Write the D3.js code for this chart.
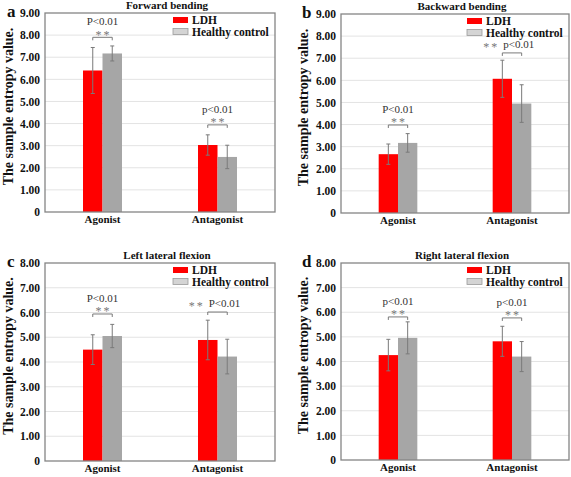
<!DOCTYPE html>
<html><head><meta charset="utf-8">
<script src="https://cdn.jsdelivr.net/npm/d3@7"></script>
<style>body{margin:0;background:#fff}svg{display:block}</style>
</head><body><svg id="c" width="571" height="477"></svg>
<script>
const categories = ["Agonist", "Antagonist"];
const seriesNames = ["LDH", "Healthy control"];
const panelLetters = ["a", "b", "c", "d"];
const panelTitles = ["Forward bending", "Backward bending", "Left lateral flexion", "Right lateral flexion"];
const yMaxValues = [9, 9, 8, 8];
const ldhMean = [[6.40, 3.03], [2.66, 6.07], [4.50, 4.89], [4.26, 4.82]];
const ldhErr  = [[1.04, 0.46], [0.46, 0.84], [0.60, 0.80], [0.64, 0.61]];
const hcMean  = [[7.17, 2.49], [3.17, 4.95], [5.05, 4.22], [4.96, 4.20]];
const hcErr   = [[0.34, 0.53], [0.42, 0.85], [0.47, 0.70], [0.65, 0.61]];
const sigText  = [["P<0.01", "p<0.01"], ["P<0.01", "p<0.01"], ["P<0.01", "P<0.01"], ["p<0.01", "p<0.01"]];
const sigStyle = [["stack", "stack"], ["stack", "inline"], ["stack", "inline"], ["stack", "stack"]];
const sigLevel = [[7.9, 3.94], [3.98, 7.24], [5.94, 6.02], [5.81, 5.77]];
const yLabel = "The sample entropy value.";

const colors = {LDH: "#ff0000", "Healthy control": "#a6a6a6"};
const legendSwatch = {LDH: "#ff0000", "Healthy control": "#d4d4d4"};
const serif = "'Liberation Serif','Times New Roman',serif";

const layout = [
  {left: 45, top: 13, right: 275, bottom: 212, letterX: 7, labelX: 8},
  {left: 341, top: 14, right: 569, bottom: 213, letterX: 302, labelX: 303},
  {left: 45, top: 263, right: 275, bottom: 461, letterX: 7, labelX: 8},
  {left: 341, top: 263, right: 569, bottom: 460, letterX: 302, labelX: 303}
];

const svg = d3.select("#c");

layout.forEach((L, p) => {
  const g = svg.append("g");
  const x0 = d3.scaleBand().domain(categories).range([L.left, L.right]);
  const x1 = d3.scaleBand().domain(seriesNames).range([0, x0.bandwidth()]).paddingOuter(1.95);
  const y = d3.scaleLinear().domain([0, yMaxValues[p]]).range([L.bottom, L.top]);
  const ticks = d3.range(0, yMaxValues[p] + 1);

  // gridlines
  g.selectAll("line.grid").data(ticks.filter(t => t > 0 && t < yMaxValues[p])).join("line")
    .attr("x1", L.left).attr("x2", L.right)
    .attr("y1", d => y(d)).attr("y2", d => y(d))
    .attr("stroke", "#e3e3e3").attr("stroke-width", 1);

  // y axis tick labels
  const yAxis = d3.axisLeft(y).tickValues(ticks).tickSize(0).tickPadding(5)
    .tickFormat(d => d === 0 ? "0" : d3.format(".2f")(d));
  const ya = g.append("g").attr("transform", `translate(${L.left},0)`).call(yAxis);
  ya.select(".domain").remove();
  ya.selectAll("text").attr("font-family", serif).attr("font-weight", "bold")
    .attr("font-size", "11.5px").attr("fill", "#111");

  // x axis labels
  const xAxis = d3.axisBottom(x0).tickSize(0).tickPadding(3);
  const xa = g.append("g").attr("transform", `translate(0,${L.bottom})`).call(xAxis);
  xa.select(".domain").remove();
  xa.selectAll("text").attr("font-family", serif).attr("font-weight", "bold")
    .attr("font-size", "11px").attr("fill", "#111");

  // bars
  const rows = [];
  categories.forEach((c, i) => {
    rows.push({cat: c, s: "LDH", v: ldhMean[p][i], e: ldhErr[p][i]});
    rows.push({cat: c, s: "Healthy control", v: hcMean[p][i], e: hcErr[p][i]});
  });
  g.selectAll("rect.bar").data(rows).join("rect")
    .attr("x", d => x0(d.cat) + x1(d.s))
    .attr("width", x1.bandwidth())
    .attr("y", d => y(d.v))
    .attr("height", d => y(0) - y(d.v))
    .attr("fill", d => colors[d.s]);

  // error bars
  const cx = d => x0(d.cat) + x1(d.s) + x1.bandwidth() / 2;
  const eb = g.selectAll("g.eb").data(rows).join("g").attr("stroke", "#7a7a7a").attr("stroke-width", 1);
  eb.append("line").attr("x1", cx).attr("x2", cx).attr("y1", d => y(d.v + d.e)).attr("y2", d => y(d.v - d.e));
  eb.append("line").attr("x1", d => cx(d) - 2).attr("x2", d => cx(d) + 2).attr("y1", d => y(d.v + d.e)).attr("y2", d => y(d.v + d.e));
  eb.append("line").attr("x1", d => cx(d) - 2).attr("x2", d => cx(d) + 2).attr("y1", d => y(d.v - d.e)).attr("y2", d => y(d.v - d.e));

  // plot border
  g.append("rect").attr("x", L.left).attr("y", L.top)
    .attr("width", L.right - L.left).attr("height", L.bottom - L.top)
    .attr("fill", "none").attr("stroke", "#858585").attr("stroke-width", 1.3);

  // significance brackets
  categories.forEach((c, i) => {
    const bl = x0(c) + x1("LDH") + x1.bandwidth() / 2;
    const br = x0(c) + x1("Healthy control") + x1.bandwidth() / 2;
    const by = y(sigLevel[p][i]);
    g.append("path").attr("d", `M${bl},${by + 3}V${by}H${br}V${by + 3}`)
      .attr("fill", "none").attr("stroke", "#7a7a7a").attr("stroke-width", 1);
    const mid = (bl + br) / 2;
    if (sigStyle[p][i] === "stack") {
      g.append("text").attr("x", mid).attr("y", by - 12).attr("text-anchor", "middle")
        .attr("font-family", serif).attr("font-size", "11px").attr("fill", "#333").text(sigText[p][i]);
      g.append("text").attr("x", mid + 1).attr("y", by + 1.5).attr("text-anchor", "middle")
        .attr("font-family", serif).attr("font-size", "12px").attr("letter-spacing", "2px")
        .attr("fill", "#777").text("**");
    } else {
      g.append("text").attr("x", bl - 3).attr("y", by - 5).attr("text-anchor", "end")
        .attr("font-family", serif).attr("font-size", "12px").attr("letter-spacing", "2px")
        .attr("fill", "#777").attr("dy", "3px").text("**");
      g.append("text").attr("x", bl + 1).attr("y", by - 5).attr("text-anchor", "start")
        .attr("font-family", serif).attr("font-size", "11px").attr("fill", "#333").text(sigText[p][i]);
    }
  });

  // legend
  const lg = g.append("g");
  seriesNames.forEach((s, k) => {
    const cy = L.top + 7 + k * 11.5;
    lg.append("rect").attr("x", L.right - 102).attr("y", cy - 3).attr("width", 15).attr("height", 6)
      .attr("fill", legendSwatch[s]).attr("stroke", s === "LDH" ? "none" : "#9a9a9a").attr("stroke-width", 0.8);
    lg.append("text").attr("x", L.right - 83).attr("y", cy + 4)
      .attr("font-family", serif).attr("font-weight", "bold").attr("font-size", "11.5px")
      .attr("fill", "#111").text(s);
  });

  // title
  g.append("text").attr("x", (L.left + L.right) / 2 + 7).attr("y", L.top - 4)
    .attr("text-anchor", "middle").attr("font-family", serif).attr("font-weight", "bold")
    .attr("font-size", "11px").attr("fill", "#111").text(panelTitles[p]);

  // panel letter
  g.append("text").attr("x", L.letterX).attr("y", L.top + 4)
    .attr("font-family", serif).attr("font-weight", "bold").attr("font-size", "17px")
    .attr("fill", "#111").text(panelLetters[p]);

  // y label
  g.append("text").attr("transform", `translate(${L.labelX + 5},${(L.top + L.bottom) / 2 - 6}) rotate(-90)`)
    .attr("text-anchor", "middle").attr("font-family", serif).attr("font-weight", "bold")
    .attr("font-size", "14px").attr("fill", "#111").text(yLabel);
});
</script>
</body></html>
